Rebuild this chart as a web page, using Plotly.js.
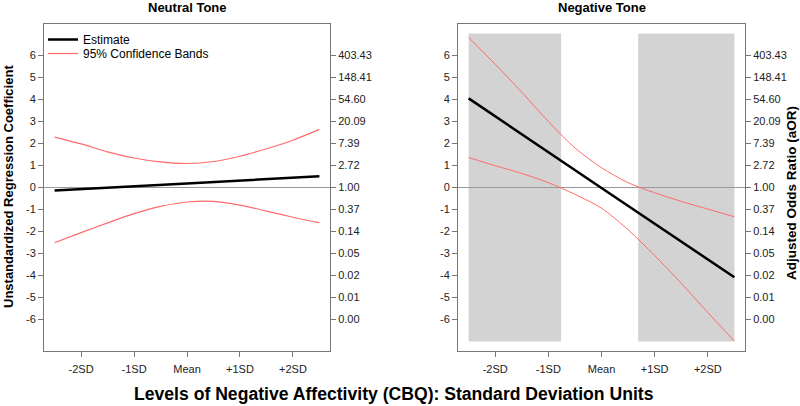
<!DOCTYPE html>
<html>
<head>
<meta charset="utf-8">
<script src="https://cdn.plot.ly/plotly-3.0.1.min.js"></script>
<style>
  html, body { margin: 0; padding: 0; background: #fff; }
  #chart { width: 800px; height: 406px; }
</style>
</head>
<body>
<div id="chart"></div>
<script>
// moderator levels (SD units)
var sdLevels = [-2.5, -2, -1.5, -1, -0.5, 0, 0.5, 1, 1.5, 2, 2.5];
var estX = [-2.5, 0, 2.5];

// Neutral tone
var neutralEst = [-0.14, 0.18, 0.51];
var neutralUpper = [2.29, 1.98, 1.62, 1.34, 1.16, 1.09, 1.18, 1.42, 1.76, 2.15, 2.64];
var neutralLower = [-2.51, -2.05, -1.61, -1.19, -0.86, -0.66, -0.63, -0.80, -1.07, -1.35, -1.60];

// Negative tone
var negativeEst = [4.05, -0.02, -4.08];
var negativeUpper = [6.82, 5.60, 4.33, 3.00, 1.80, 0.90, 0.22, -0.24, -0.63, -0.98, -1.33];
var negativeLower = [1.36, 0.99, 0.64, 0.22, -0.31, -0.94, -1.92, -3.09, -4.35, -5.68, -6.97];

// regions of significance (negative tone)
var sigRegions = [[-2.5, -0.76], [0.69, 2.5]];
var sigBand = [-7, 7];

var xTickVals = [-2, -1, 0, 1, 2];
var xTickText = ['-2SD', '-1SD', 'Mean', '+1SD', '+2SD'];
var coefTicks = [-6, -5, -4, -3, -2, -1, 0, 1, 2, 3, 4, 5, 6];
var coefLabels = ['-6', '-5', '-4', '-3', '-2', '-1', '0', '1', '2', '3', '4', '5', '6'];
var oddsLabels = ['0.00', '0.01', '0.02', '0.05', '0.14', '0.37', '1.00',
                  '2.72', '7.39', '20.09', '54.60', '148.41', '403.43'];

var FONT = 'Liberation Sans, Arial, sans-serif';
var RED = '#ff6b6b';
var BOX = '#777';

function line(x, y, xa, ya, color, width, name, legend, show) {
  return {
    x: x, y: y, xaxis: xa, yaxis: ya, type: 'scatter', mode: 'lines',
    line: {color: color, width: width, shape: 'spline', smoothing: 0.8},
    name: name, legend: legend, showlegend: show, hoverinfo: 'skip'
  };
}

var data = [
  line(estX, neutralEst, 'x', 'y', '#000', 2.5, 'Estimate', 'legend', true),
  line(sdLevels, neutralUpper, 'x', 'y', RED, 1.2, '95% Confidence Bands', 'legend2', true),
  line(sdLevels, neutralLower, 'x', 'y', RED, 1.2, 'lower', 'legend2', false),
  line(estX, negativeEst, 'x2', 'y3', '#000', 2.5, 'Estimate', 'legend', false),
  line(sdLevels, negativeUpper, 'x2', 'y3', RED, 1, 'upper', 'legend2', false),
  line(sdLevels, negativeLower, 'x2', 'y3', RED, 1, 'lower', 'legend2', false),
  // odds-ratio axes share the coefficient scale; invisible copies keep them drawn
  {x: estX, y: neutralEst, xaxis: 'x', yaxis: 'y2', mode: 'lines', opacity: 0,
   showlegend: false, hoverinfo: 'skip'},
  {x: estX, y: negativeEst, xaxis: 'x2', yaxis: 'y4', mode: 'lines', opacity: 0,
   showlegend: false, hoverinfo: 'skip'}
];

var shapes = sigRegions.map(function (r) {
  return {type: 'rect', xref: 'x2', yref: 'y3', x0: r[0], x1: r[1],
          y0: sigBand[0], y1: sigBand[1], fillcolor: '#d3d3d3',
          line: {width: 0}, layer: 'below'};
});

var yRange = [-7.43, 7.43];
var xRange = [-2.7, 2.7];
var dom1 = [44 / 800, 330 / 800];
var dom2 = [458 / 800, 745 / 800];
var ydom = [1 - 351 / 406, 1 - 24 / 406];

function xAxis(dom, anchor) {
  return {domain: dom, anchor: anchor, range: xRange, tickvals: xTickVals, ticktext: xTickText,
          showline: true, mirror: true, linecolor: BOX, ticks: 'outside', ticklen: 5,
          tickcolor: BOX, showgrid: false, zeroline: false, ticklabelstandoff: 3,
          tickfont: {size: 11, color: '#222', family: FONT}};
}
function yLeft(anchor) {
  return {domain: ydom, anchor: anchor, range: yRange, tickvals: coefTicks, ticktext: coefLabels,
          showline: true, mirror: true, linecolor: BOX, ticks: 'outside', ticklen: 5,
          tickcolor: BOX, showgrid: false, zeroline: true, zerolinecolor: '#999',
          zerolinewidth: 1, tickfont: {size: 11, color: '#222', family: FONT}};
}
function yRight(anchor, over) {
  return {domain: ydom, anchor: anchor, overlaying: over, side: 'right', range: yRange,
          tickvals: coefTicks, ticktext: oddsLabels, ticks: 'outside', ticklen: 5,
          tickcolor: BOX, showline: false, showgrid: false, zeroline: false,
          tickfont: {size: 11, color: '#222', family: FONT}};
}

function note(text, px, py, size, angle) {
  return {text: '<b>' + text + '</b>', xref: 'paper', yref: 'paper',
          x: px / 800, y: 1 - py / 406, xanchor: 'center', yanchor: 'middle',
          textangle: angle || 0, showarrow: false, font: {size: size, family: FONT}};
}

var layout = {
  width: 800, height: 406,
  margin: {l: 0, r: 0, t: 0, b: 0},
  paper_bgcolor: '#fff', plot_bgcolor: '#fff',
  font: {family: FONT, color: '#000'},
  xaxis: xAxis(dom1, 'y'),
  yaxis: yLeft('x'),
  yaxis2: yRight('x', 'y'),
  xaxis2: xAxis(dom2, 'y3'),
  yaxis3: yLeft('x2'),
  yaxis4: yRight('x2', 'y3'),
  shapes: shapes,
  legend: {x: 43 / 800, y: 1 - 25 / 406, xanchor: 'left', yanchor: 'top',
           bgcolor: 'rgba(0,0,0,0)', font: {size: 12, family: FONT}},
  legend2: {x: 43 / 800, y: 1 - 39 / 406, xanchor: 'left', yanchor: 'top',
            bgcolor: 'rgba(0,0,0,0)', font: {size: 12, family: FONT}},
  annotations: [
    note('Neutral Tone', 187, 8, 13),
    note('Negative Tone', 602, 8, 13),
    note('Unstandardized Regression Coefficient', 8, 187, 13, -90),
    note('Adjusted Odds Ratio (aOR)', 792, 193, 13.5, -90),
    note('Levels of Negative Affectivity (CBQ): Standard Deviation Units', 394, 394, 17.6)
  ]
};

Plotly.newPlot('chart', data, layout, {staticPlot: true});
</script>
</body>
</html>
